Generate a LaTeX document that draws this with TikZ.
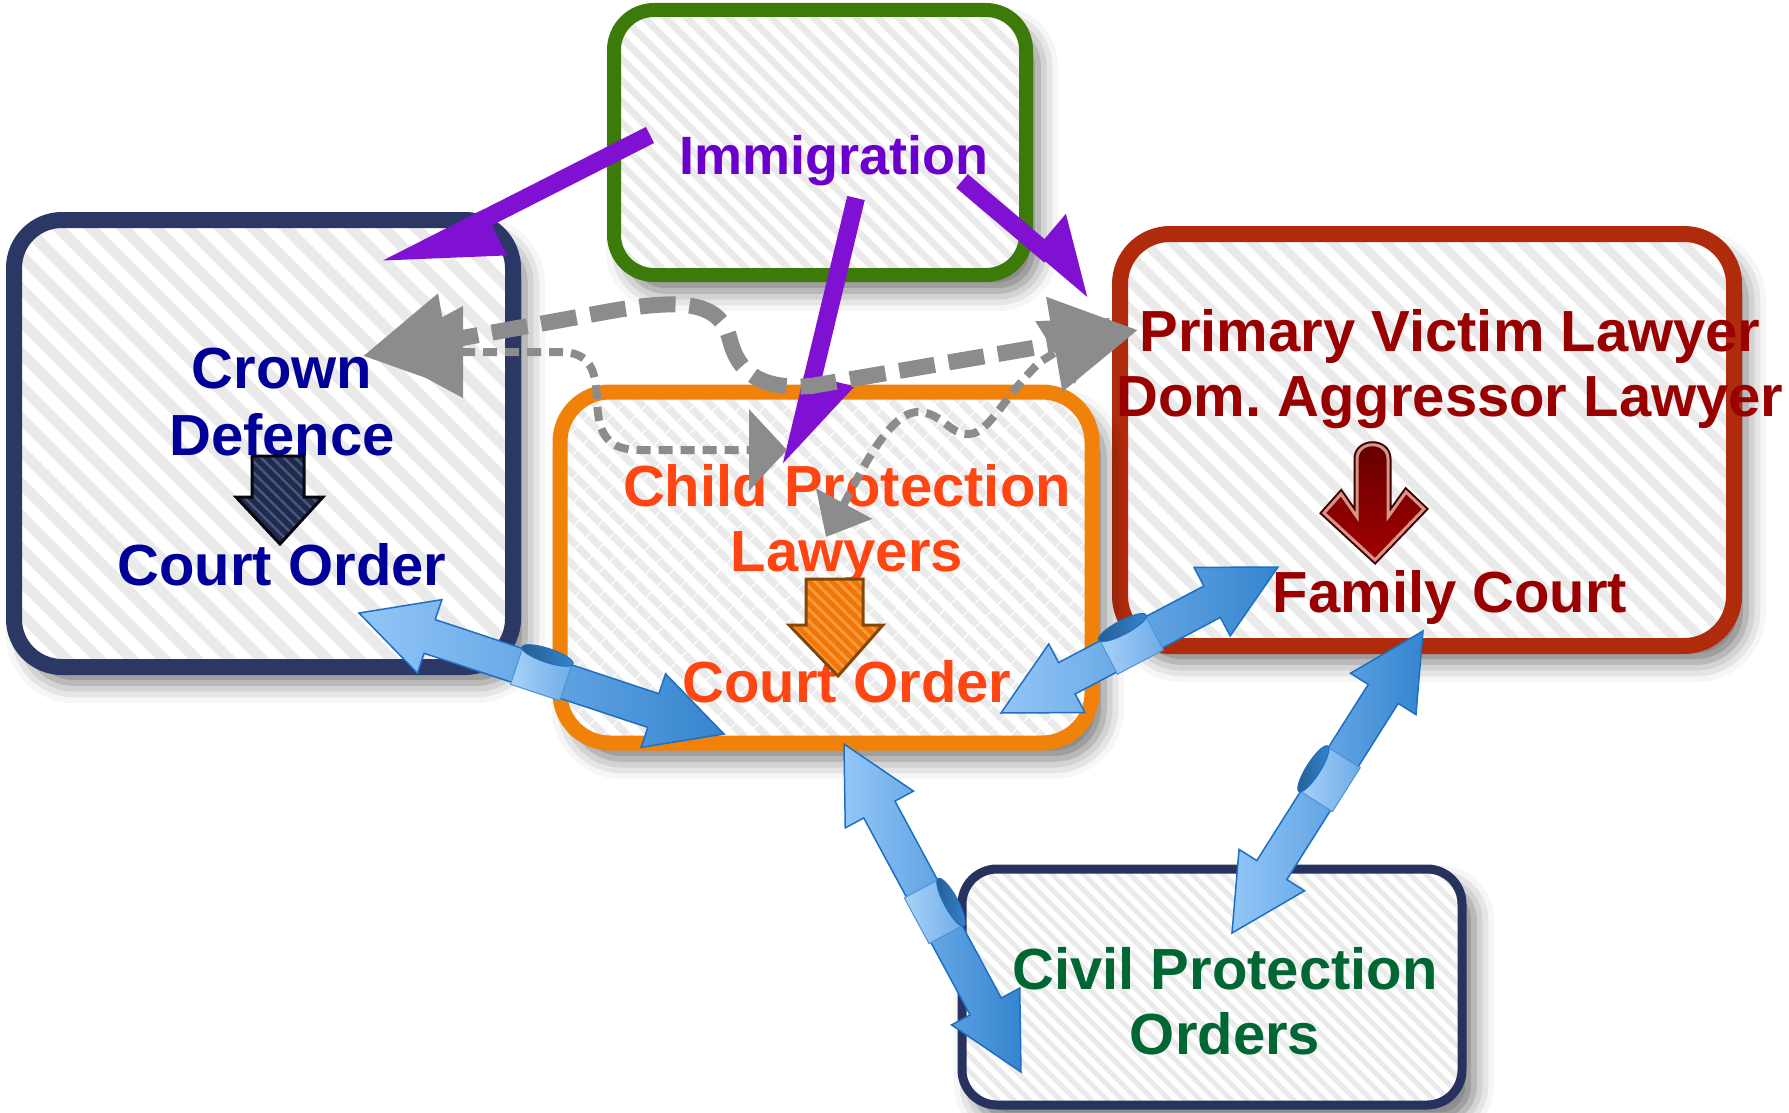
\documentclass[tikz,border=0pt]{standalone}
\usepackage{fontspec}
\setmainfont{Liberation Sans}
\usetikzlibrary{arrows.meta,calc,patterns.meta,shadows.blur,shapes.arrows,shapes.geometric}

\definecolor{crownnavy}{HTML}{2B3866}
\definecolor{crowntext}{HTML}{000099}
\definecolor{immgreen}{HTML}{3C7A0A}
\definecolor{immtext}{HTML}{6B00CC}
\definecolor{arrowpurple}{HTML}{8010D2}
\definecolor{famred}{HTML}{B02A0C}
\definecolor{famtext}{HTML}{990000}
\definecolor{childorange}{HTML}{F0820A}
\definecolor{childtext}{HTML}{FF4512}
\definecolor{civilnavy}{HTML}{28325E}
\definecolor{civiltext}{HTML}{006633}
\definecolor{dashgray}{HTML}{8C8C8C}
\definecolor{hatchgray}{HTML}{EAEAEA}
\definecolor{ribbonlight}{HTML}{93C6F8}
\definecolor{ribbondark}{HTML}{3585CF}
\definecolor{ribbonedge}{HTML}{1D6FC2}

\tikzset{
  panel/.style={rounded corners=#1, inner sep=0pt,
    blur shadow={shadow xshift=12pt, shadow yshift=-16pt, shadow blur radius=20pt, shadow opacity=55},
    preaction={fill=white}, pattern color=hatchgray},
  hatch/.style 2 args={pattern={Lines[angle=-45, distance=#1, line width=#2]}},
  boxtext/.style={font=\fontsize{58}{66}\selectfont\bfseries, anchor=base, inner sep=0pt},
  purplearrow/.style={draw=arrowpurple, line width=18pt, -{Triangle[harpoon, length=#1, width=80pt]}},
  graythick/.style={draw=dashgray, line width=16pt, dash pattern=on 36pt off 14pt,
    {Triangle[length=85pt, width=92pt]}-{Triangle[length=85pt, width=92pt]}},
  graythin/.style={draw=dashgray, line width=8pt, dash pattern=on 14pt off 8pt},
  ribbonarrow/.style={double arrow, double arrow tip angle=55, double arrow head extend=21pt,
    inner xsep=0pt, inner ysep=17pt, draw=ribbonedge, line width=1.5pt,
    left color=ribbonlight, right color=ribbondark},
  ribbonfold/.style={rectangle, minimum width=52pt, minimum height=40pt, inner sep=0pt,
    draw=ribbonedge!60!ribbonlight, line width=1pt, left color=ribbonlight!80!white, right color=ribbonlight!60!ribbondark},
  ribbonroll/.style={ellipse, minimum width=54pt, minimum height=14pt, inner sep=0pt, outer ysep=12pt, anchor=south,
    draw=ribbonedge, line width=1pt, left color=ribbondark!70!black, right color=ribbondark}
}

\begin{document}
\begin{tikzpicture}[x=1pt, y=-1pt]
  \useasboundingbox (0,0) rectangle (1789,1113);

  % boxes
  \node[panel=48pt, hatch={23pt}{11pt}, draw=crownnavy, line width=16pt, minimum width=499pt, minimum height=447pt] (crown) at (263.5,443.5) {};
  \node[panel=40pt, hatch={15pt}{7pt}, draw=immgreen, line width=14pt, minimum width=412pt, minimum height=265pt] (immig) at (820,142.5) {};
  \node[panel=50pt, hatch={19pt}{9pt}, draw=famred, line width=16pt, minimum width=614pt, minimum height=412pt] (family) at (1427,440) {};
  \node[panel=50pt, hatch={17pt}{8pt}, draw=childorange, line width=15pt, minimum width=532pt, minimum height=351pt] (child) at (826,567.5) {};
  \node[panel=35pt, hatch={11pt}{5pt}, draw=civilnavy, line width=9pt, minimum width=500pt, minimum height=236pt] (civil) at (1212,987) {};

  % texts
  \node[boxtext, text=crowntext] (crownA) at (282,388) {Crown};
  \node[boxtext, text=crowntext] (crownB) at (282,455) {Defence};
  \node[boxtext, text=crowntext] (crownC) at (282,585) {Court Order};
  \node[boxtext, text=immtext, font=\fontsize{54}{60}\selectfont\bfseries] (immA) at (834,175) {Immigration};
  \node[boxtext, text=famtext] (famA) at (1450,351) {Primary Victim Lawyer};
  \node[boxtext, text=famtext] (famB) at (1450,416) {Dom.\ Aggressor Lawyer};
  \node[boxtext, text=famtext] (famC) at (1450,612) {Family Court};
  \node[boxtext, text=childtext] (childA) at (847,506) {Child Protection};
  \node[boxtext, text=childtext] (childB) at (847,571) {Lawyers};
  \node[boxtext, text=childtext] (childC) at (847,702) {Court Order};
  \node[boxtext, text=civiltext] (civilA) at (1225,989) {Civil Protection};
  \node[boxtext, text=civiltext] (civilB) at (1225,1054) {Orders};

  % block arrows inside the boxes
  \draw[line width=3pt, draw=black!85!crownnavy, preaction={fill=crownnavy!75!black},
    hatch={8pt}{2.5pt}, pattern color=crownnavy!85!white]
    (252,456) -- (304,456) -- (304,497) -- (323,497) -- (280,544) -- (236,497) -- (252,497) -- cycle;
  \draw[line width=3pt, draw=childorange!55!black, preaction={fill=childorange!90!red},
    hatch={8pt}{3pt}, pattern color=childorange!80!white]
    (806,579) -- (863,579) -- (863,625) -- (883,625) -- (838,676) -- (789,625) -- (806,625) -- cycle;
  \draw[line width=7pt, draw=famtext!40!black, line join=miter]
    (1357,517) -- (1341,494) -- (1324,513) -- (1375,560) -- (1424,509) -- (1406,492) -- (1388,517) -- (1388,459)
    .. controls (1388,440) and (1357,440) .. (1357,459) -- cycle;
  \draw[line width=3pt, draw=famred!50!white, line join=miter, top color=famtext!65!black, bottom color=famtext!90!red]
    (1357,517) -- (1341,494) -- (1324,513) -- (1375,560) -- (1424,509) -- (1406,492) -- (1388,517) -- (1388,459)
    .. controls (1388,440) and (1357,440) .. (1357,459) -- cycle;

  % arrow end points
  \coordinate (immL) at (650,135);
  \coordinate (immC) at (856,198);
  \coordinate (immR) at (962,181);
  \coordinate (crownTop) at (384,270);
  \coordinate (childTop) at (791,468);
  \coordinate (familyTop) at (1093,292);
  \coordinate (crownThick) at (363,356);
  \coordinate (familyThick) at (1138,330);
  \coordinate (crownThin) at (378,352);
  \coordinate (childThinA) at (787,450);
  \coordinate (childThinB) at (826,537);
  \coordinate (familyThin) at (1110,318);

  % purple arrows
  \draw[purplearrow=95pt] (immL) -- (crownTop);
  \draw[purplearrow=77pt] (immC) -- (childTop);
  \draw[purplearrow=60pt] (immR) -- (familyTop);

  % gray dashed arrows
  \draw[graythin, {Triangle[length=85pt, width=90pt]}-{Triangle[length=38pt, width=80pt]}]
    (crownThin) -- (560,352) .. controls (590,352) and (596,370) .. (597,400)
    .. controls (598,435) and (608,450) .. (640,450) -- (childThinA);
  \draw[graythin, {Triangle[length=38pt, width=62pt]}-{Triangle[length=65pt, width=72pt]}]
    (childThinB) .. controls (858,478) and (888,412) .. (918,412)
    .. controls (942,412) and (950,436) .. (970,434)
    .. controls (990,432) and (1005,395) .. (1040,362) -- (familyThin);
  \draw[graythick] (crownThick) -- (600,313) .. controls (680,298) and (720,300) .. (730,340)
    .. controls (738,372) and (760,390) .. (811,386) -- (familyThick);

  % blue ribbons
  \coordinate (crownR) at (359,613);
  \coordinate (childL) at (724,734);
  \coordinate (childR) at (1001,713);
  \coordinate (familyL) at (1278,567);
  \coordinate (childB) at (844,744);
  \coordinate (civilL) at (1021,1072);
  \coordinate (familyB) at (1423,631);
  \coordinate (civilT) at (1232,933);
  \path let \p1=($(childL)-(crownR)$), \n1={veclen(\x1,\y1)} in (crownR) -- (childL)
    node[ribbonarrow, sloped, midway, minimum height=\n1] (rib1) {}
    node[ribbonfold, sloped, pos=0.5] (fold1) {} node[ribbonroll, sloped, pos=0.5] (roll1) {};
  \path let \p1=($(familyL)-(childR)$), \n1={veclen(\x1,\y1)} in (childR) -- (familyL)
    node[ribbonarrow, sloped, midway, minimum height=\n1] (rib2) {}
    node[ribbonfold, sloped, pos=0.47] (fold2) {} node[ribbonroll, sloped, pos=0.47] (roll2) {};
  \path let \p1=($(civilL)-(childB)$), \n1={veclen(\x1,\y1)} in (childB) -- (civilL)
    node[ribbonarrow, sloped, midway, minimum height=\n1] (rib3) {}
    node[ribbonfold, sloped, pos=0.51] (fold3) {} node[ribbonroll, sloped, pos=0.51] (roll3) {};
  \path let \p1=($(civilT)-(familyB)$), \n1={veclen(\x1,\y1)} in (familyB) -- (civilT)
    node[ribbonarrow, sloped, midway, minimum height=\n1] (rib4) {}
    node[ribbonfold, sloped, pos=0.49] (fold4) {} node[ribbonroll, sloped, pos=0.49] (roll4) {};
\end{tikzpicture}
\end{document}
